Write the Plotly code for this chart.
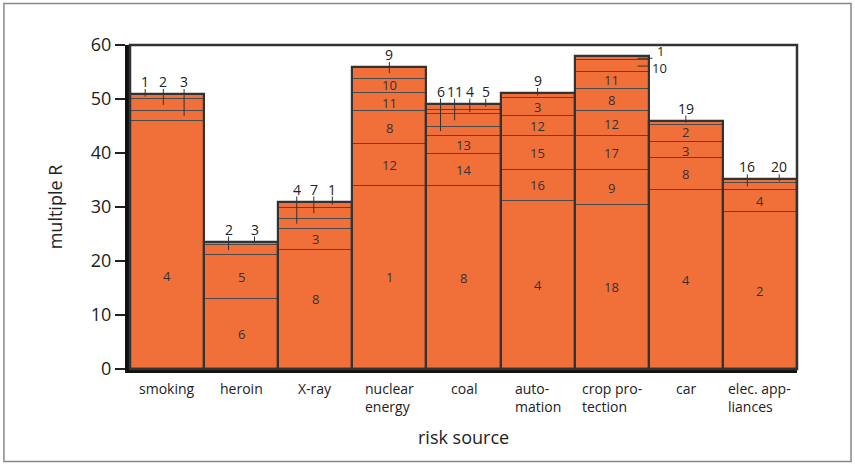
import plotly.graph_objects as go

# ---------------- data ----------------
categories = ["smoking", "heroin", "X-ray", "nuclear energy", "coal",
              "automation", "crop protection", "car", "elec. appliances"]
tick_labels = ["smoking", "heroin", "X-ray", "nuclear<br>energy", "coal",
               "auto-<br>mation", "crop pro-<br>tection", "car", "elec. app-<br>liances"]

# segments listed bottom -> top
smoking_ids = ["4", "3", "2", "1"]
smoking_vals = [45.9, 1.9, 2.2, 0.9]
heroin_ids = ["6", "5", "2", "3"]
heroin_vals = [13.0, 8.1, 1.85, 0.65]
xray_ids = ["8", "3", "4", "7", "1"]
xray_vals = [22.1, 3.9, 1.8, 2.1, 1.1]
nuclear_ids = ["1", "12", "8", "11", "10", "9"]
nuclear_vals = [33.9, 7.7, 6.1, 3.4, 2.6, 2.2]
coal_ids = ["8", "14", "13", "6", "11", "4", "5"]
coal_vals = [33.8, 6.1, 3.3, 1.7, 2.3, 0.8, 1.1]
automation_ids = ["4", "16", "15", "12", "3", "9"]
automation_vals = [31.1, 5.8, 6.2, 3.8, 3.3, 0.9]
crop_ids = ["18", "9", "17", "12", "8", "11", "10", "1"]
crop_vals = [30.3, 6.6, 6.2, 4.7, 4.1, 3.1, 2.2, 0.7]
car_ids = ["4", "8", "3", "2", "19"]
car_vals = [33.1, 5.9, 3.1, 3.1, 0.8]
elec_ids = ["2", "4", "16", "20"]
elec_vals = [29.0, 4.2, 1.2, 0.7]

segment_ids = [smoking_ids, heroin_ids, xray_ids, nuclear_ids, coal_ids,
               automation_ids, crop_ids, car_ids, elec_ids]
segment_vals = [smoking_vals, heroin_vals, xray_vals, nuclear_vals, coal_vals,
                automation_vals, crop_vals, car_vals, elec_vals]

# ---------------- layout helpers (positions, not data) ----------------
INSIDE_MIN = 2.5
above_offsets = {
    0: {"1": -0.295, "2": -0.05, "3": 0.23},
    1: {"2": -0.17, "3": 0.18},
    2: {"4": -0.25, "7": -0.02, "1": 0.23},
    3: {"9": 0.0},
    4: {"6": -0.31, "11": -0.12, "4": 0.085, "5": 0.3},
    5: {"9": 0.0},
    7: {"19": 0.0},
    8: {"16": -0.17, "20": 0.26},
}
side_labels = {6: {"1": (0.55, 0.6, 1.35), "10": (0.5, 0.53, -0.3)}}
inside_y_shift = {(0, "4"): -5.65, (2, "8"): 1.85,
                  (3, "10"): 0.2, (3, "11"): -0.1,
                  (7, "2"): 0.15, (7, "3"): -0.15}

FILL = "#F1703A"
DARK = "#333333"
FONT = "Open Sans"
IN_SIZE = 13
TOP_SIZE = 14

fig = go.Figure()
xs, bases, hs = [], [], []
tops = []
annotations = []
shapes = []

for i, (ids, vals) in enumerate(zip(segment_ids, segment_vals)):
    b = 0.0
    mids = {}
    for sid, v in zip(ids, vals):
        xs.append(i)
        bases.append(b)
        hs.append(v)
        mids[sid] = (b + v / 2, v)
        b += v
    top = b
    tops.append(top)
    for sid, (mid, v) in mids.items():
        if i in side_labels and sid in side_labels[i]:
            lend, tx, dy = side_labels[i][sid]
            shapes.append(dict(type="line", xref="x", yref="y",
                               x0=i + 0.35, x1=i + lend, y0=mid, y1=mid,
                               line=dict(color=DARK, width=1)))
            annotations.append(dict(x=i + tx, y=mid + dy, xref="x", yref="y",
                                    text=sid, showarrow=False, xanchor="left",
                                    yanchor="middle", borderpad=0,
                                    font=dict(size=IN_SIZE, color="#222", family=FONT)))
        elif v >= INSIDE_MIN:
            y = mid + inside_y_shift.get((i, sid), 0.0)
            annotations.append(dict(x=i, y=y, xref="x", yref="y", text=sid,
                                    showarrow=False, yanchor="middle", borderpad=0,
                                    font=dict(size=IN_SIZE, color="#333", family=FONT)))
        else:
            off = above_offsets.get(i, {}).get(sid, 0.0)
            shapes.append(dict(type="line", xref="x", yref="y",
                               x0=i + off, x1=i + off, y0=mid, y1=top + 0.95,
                               line=dict(color=DARK, width=1)))
            annotations.append(dict(x=i + off, y=top, xref="x", yref="y",
                                    text=sid, showarrow=False, yanchor="bottom",
                                    yshift=2, borderpad=0,
                                    font=dict(size=TOP_SIZE, color="#222", family=FONT)))

fig.add_trace(go.Bar(x=xs, y=hs, base=bases, width=1,
                     marker=dict(color=FILL, line=dict(color="#4a4a4a", width=1)),
                     hoverinfo="skip", showlegend=False))
fig.add_trace(go.Bar(x=list(range(len(categories))), y=tops, width=1,
                     marker=dict(color="rgba(0,0,0,0)", line=dict(color=DARK, width=2.2)),
                     hoverinfo="skip", showlegend=False))

# category labels
for i, lab in enumerate(tick_labels):
    annotations.append(dict(x=i, y=0, xref="x", yref="y", text=lab,
                            showarrow=False, yanchor="top", yshift=-8,
                            align="left",
                            font=dict(size=14, color="#222", family=FONT)))

annotations.append(dict(x=0.5, y=-0.21, xref="paper", yref="paper",
                        text="risk source", showarrow=False, yanchor="middle",
                        font=dict(size=18, color="#222", family=FONT)))
annotations.append(dict(x=-0.112, y=0.5, xref="paper", yref="paper",
                        text="multiple R", showarrow=False, textangle=-90,
                        xanchor="center", yanchor="middle",
                        font=dict(size=18, color="#222", family=FONT)))

# frame (top and right) and outer border
shapes.append(dict(type="rect", xref="paper", yref="paper", x0=0, x1=1, y0=0, y1=1,
                   line=dict(color=DARK, width=2.5), layer="above"))
shapes.append(dict(type="rect", xref="paper", yref="paper",
                   x0=-0.189, x1=1.081, y0=-0.2855, y1=1.128,
                   line=dict(color="#888888", width=1.5), layer="below"))

fig.update_layout(
    width=855, height=464,
    margin=dict(l=130, r=58, t=45, b=95),
    paper_bgcolor="white", plot_bgcolor="white",
    barmode="overlay", bargap=0,
    xaxis=dict(range=[-0.5, 8.5], showticklabels=False, ticks="",
               showgrid=False, zeroline=False, showline=True,
               linecolor="#111", linewidth=4),
    yaxis=dict(range=[0, 60], dtick=10, ticks="outside", ticklen=10,
               tickwidth=2, tickcolor="#222", showgrid=False, zeroline=False,
               showline=True, linecolor="#111", linewidth=5,
               tickfont=dict(size=18, color="#222", family=FONT)),
    annotations=annotations,
    shapes=shapes,
    showlegend=False,
)

fig.write_html("out.html", config={"displayModeBar": False},
               post_script="document.body.style.margin='0';document.body.style.overflow='hidden';")
